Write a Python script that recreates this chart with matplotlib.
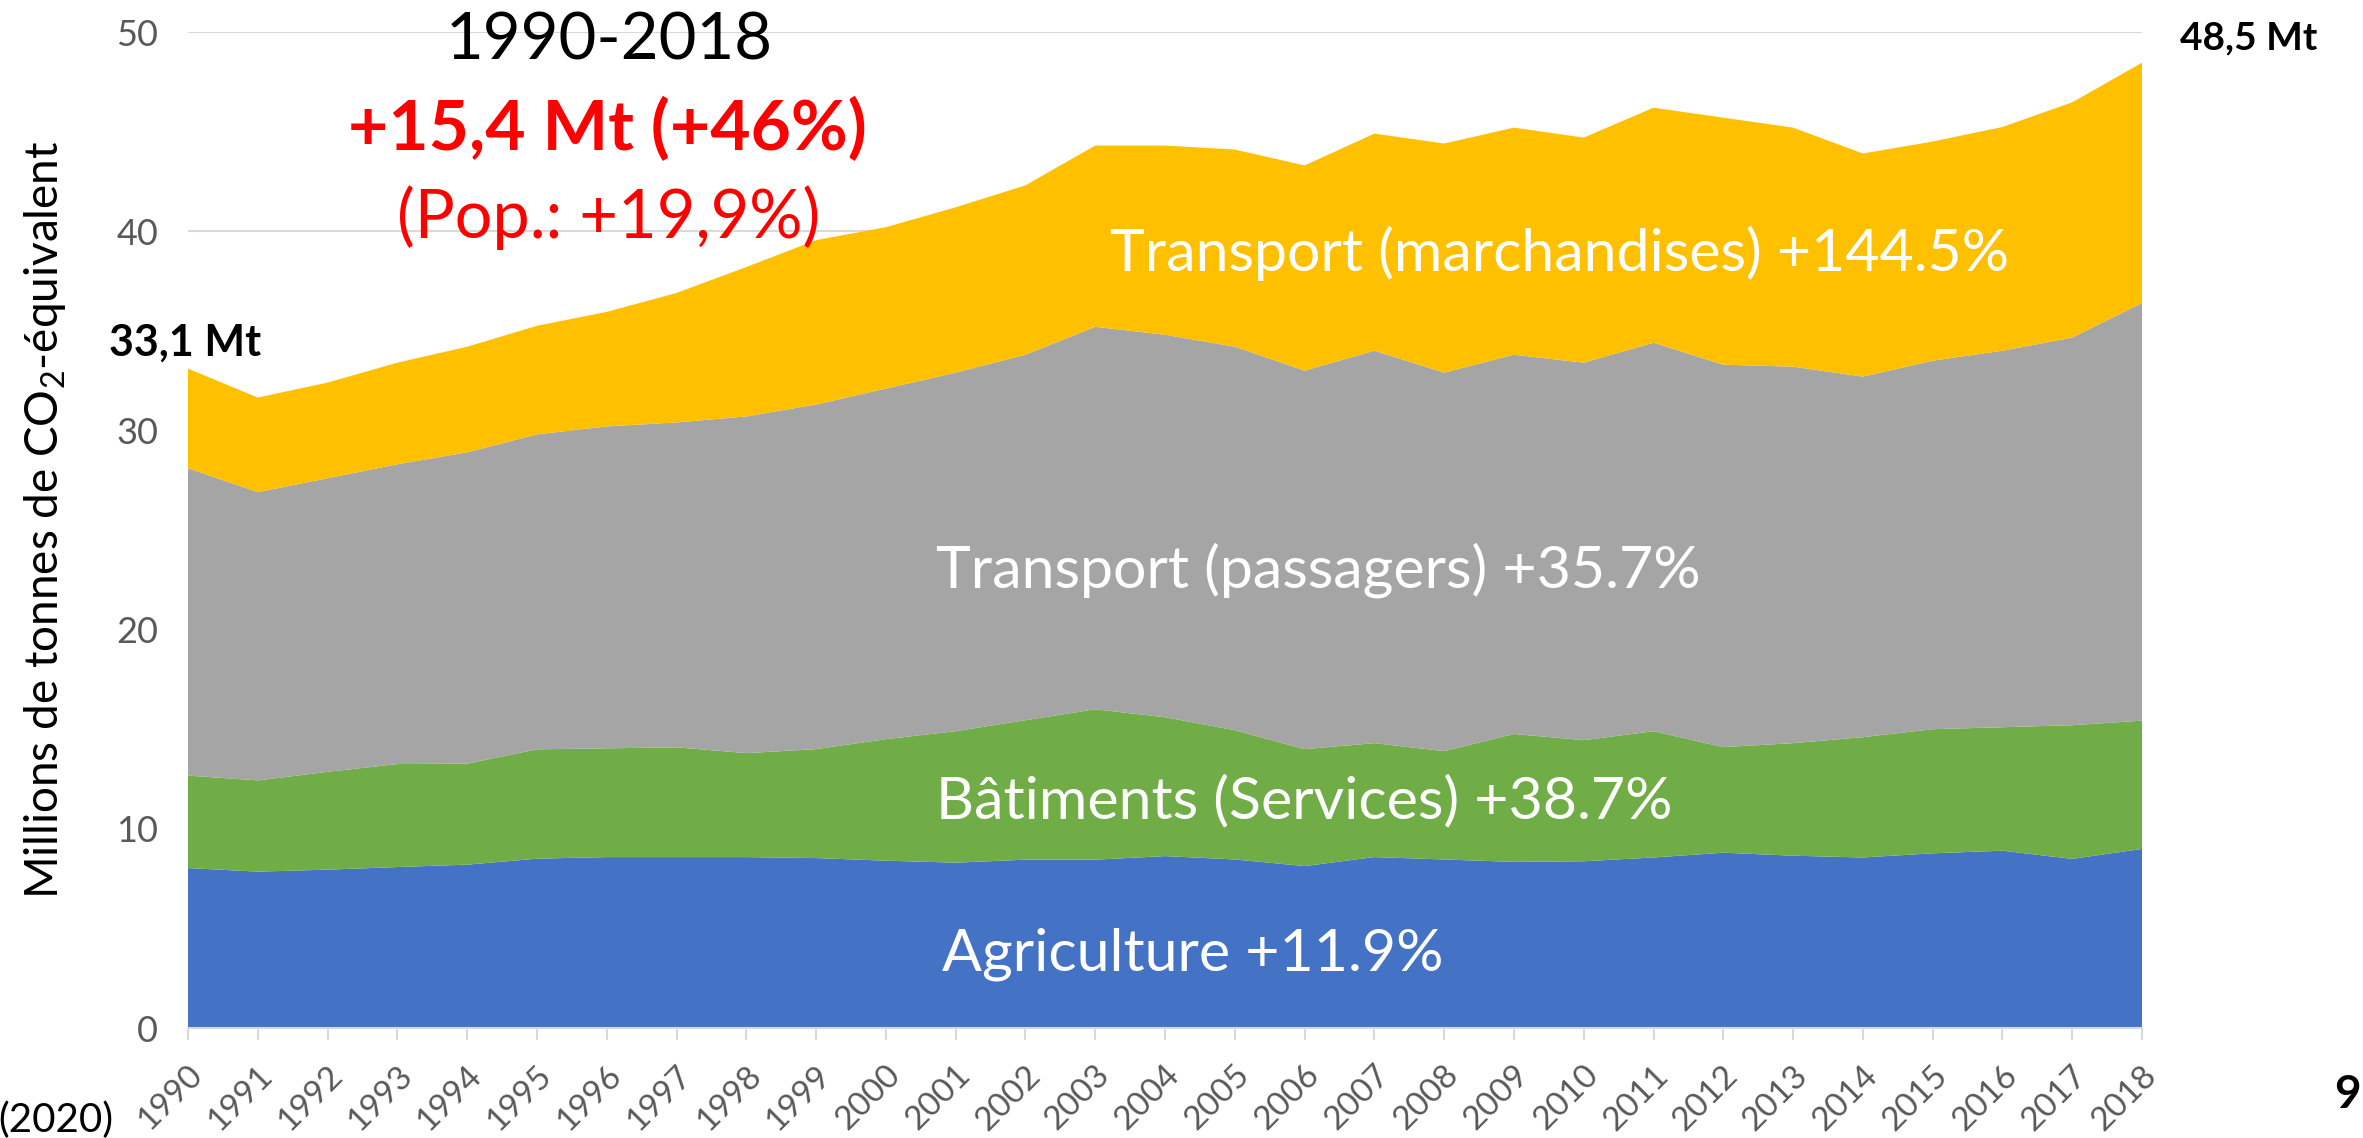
import matplotlib
matplotlib.use("Agg")
import matplotlib.pyplot as plt
import matplotlib.transforms as mtransforms
import numpy as np

plt.rcParams['font.family'] = ['Lato', 'DejaVu Sans']
plt.rcParams['mathtext.fontset'] = 'custom'
plt.rcParams['mathtext.rm'] = 'Lato'
plt.rcParams['mathtext.it'] = 'Lato:italic'
plt.rcParams['mathtext.bf'] = 'Lato:bold'

years = list(range(1990, 2019))
agriculture = [8.03, 7.85, 7.95, 8.08, 8.20, 8.50, 8.58, 8.58, 8.58, 8.53,
               8.40, 8.30, 8.45, 8.45, 8.63, 8.46, 8.13, 8.58, 8.46, 8.34,
               8.37, 8.56, 8.80, 8.65, 8.56, 8.77, 8.90, 8.49, 8.99]
batiments = [4.64, 4.58, 4.91, 5.17, 5.07, 5.49, 5.46, 5.51, 5.22, 5.47,
             6.10, 6.60, 7.00, 7.55, 6.97, 6.49, 5.87, 5.72, 5.44, 6.42,
             6.08, 6.34, 5.30, 5.65, 6.04, 6.23, 6.20, 6.71, 6.44]
passagers = [15.43, 14.47, 14.74, 15.05, 15.63, 15.81, 16.16, 16.31, 16.90, 17.30,
             17.60, 18.00, 18.35, 19.20, 19.20, 19.25, 19.00, 19.70, 19.00, 19.04,
             18.95, 19.50, 19.20, 18.90, 18.10, 18.50, 18.90, 19.46, 20.97]
marchandises = [5.00, 4.75, 4.80, 5.10, 5.30, 5.45, 5.75, 6.50, 7.50, 8.25,
                8.10, 8.30, 8.50, 9.10, 9.50, 9.90, 10.30, 10.90, 11.50, 11.40,
                11.30, 11.80, 12.40, 12.00, 11.20, 11.00, 11.23, 11.81, 12.06]
series_labels = ["Agriculture +11.9%", "Bâtiments (Services) +38.7%",
                 "Transport (passagers) +35.7%", "Transport (marchandises) +144.5%"]
colors = ["#4472C4", "#70AD47", "#A5A5A5", "#FFC000"]
yticks = [0, 10, 20, 30, 40, 50]

W, H = 2363, 1138
fig = plt.figure(figsize=(W / 100, H / 100), dpi=100)
left, right, top, bottom = 188, 2142, 32, 1028
ax = fig.add_axes([left / W, 1 - bottom / H, (right - left) / W, (bottom - top) / H])

ax.stackplot(years, agriculture, batiments, passagers, marchandises,
             colors=colors, linewidth=0, zorder=2)

ax.set_xlim(1990, 2018)
ax.set_ylim(0, 50)
ax.set_yticks(yticks)
ax.set_yticklabels([str(v) for v in yticks], fontsize=26, color="#595959")
ax.yaxis.grid(True, color="#D9D9D9", linewidth=1.5, zorder=0)
ax.set_axisbelow(True)
for s in ["top", "right", "left"]:
    ax.spines[s].set_visible(False)
ax.spines["bottom"].set_color("#D9D9D9")
ax.spines["bottom"].set_linewidth(1.5)
ax.spines["bottom"].set_zorder(3)
ax.tick_params(axis="y", length=0, pad=21.5)
ax.tick_params(axis="x", length=8.5, width=1.5, color="#D9D9D9", pad=22)
ax.set_xticks(years)
ax.set_xticklabels([str(y) for y in years], fontsize=24, color="#595959",
                   rotation=45, ha="right", va="center", rotation_mode="anchor")
offset = mtransforms.ScaledTranslation(10 / 100, 0, fig.dpi_scale_trans)
for lab in ax.get_xticklabels():
    lab.set_transform(lab.get_transform() + offset)

# area labels
label_pos = [(2004.4, 3.7), (2006.0, 11.35), (2006.2, 23.0), (2009.66, 38.9)]
for (x, y), t in zip(label_pos, series_labels):
    ax.text(x, y, t, color="white", fontsize=42.5, ha="center", va="center", zorder=5)

# y label
fig.text(45 / W, 1 - 520 / H, "Millions de tonnes de CO$_\\mathrm{2}$-équivalent",
         rotation=90, ha="center", va="center", fontsize=33, color="black")

# annotations
fig.text(609 / W, 1 - 60 / H, "1990-2018", ha="center", va="baseline",
         fontsize=47, color="black")
fig.text(607 / W, 1 - 150 / H, "+15,4 Mt (+46%)", ha="center", va="baseline",
         fontsize=50, color="#FF0000", fontweight="bold")
fig.text(609 / W, 1 - 238 / H, "(Pop.: +19,9%)", ha="center", va="baseline",
         fontsize=48, color="#FF0000")
fig.text(109 / W, 1 - 356 / H, "33,1 Mt", ha="left", va="baseline",
         fontsize=31, color="black", fontweight="bold")
fig.text(2180 / W, 1 - 49 / H, "48,5 Mt", ha="left", va="baseline",
         fontsize=28, color="black", fontweight="bold")
fig.text(2347 / W, 1 - 1108 / H, "9", ha="center", va="baseline",
         fontsize=33, color="black", fontweight="bold")
fig.text(113 / W, 1 - 1132 / H, "(2020)", ha="right", va="baseline",
         fontsize=29, color="black")

fig.savefig("out.png", dpi=100, facecolor="white")
